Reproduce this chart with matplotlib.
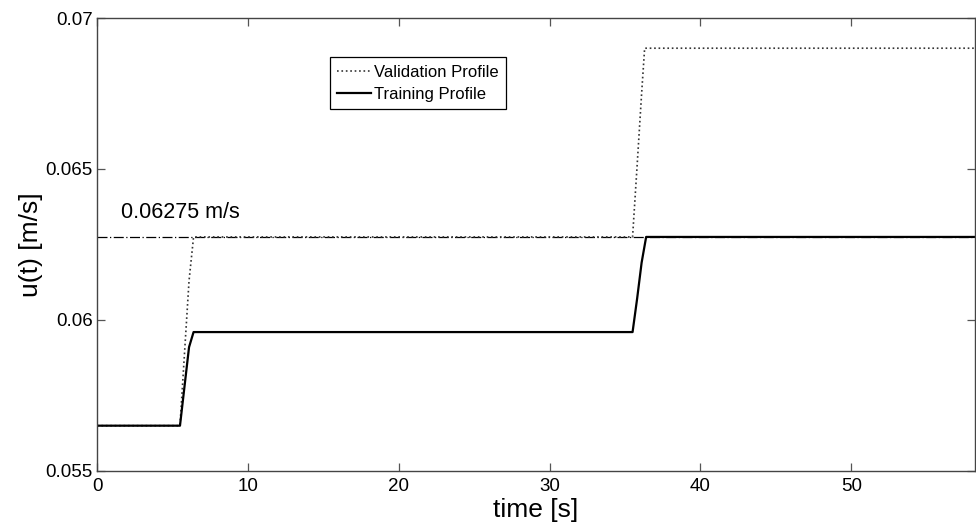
import numpy as np
import matplotlib
matplotlib.use('Agg')
import matplotlib.pyplot as plt

plt.rcParams['font.family'] = ['Liberation Sans', 'DejaVu Sans']

# 数据：分段阶跃
t_train = [0, 5.5, 5.8, 6.1, 6.4, 35.5, 35.8, 36.1, 36.4, 58.2]
u_train = [0.0565, 0.0565, 0.0578, 0.0591, 0.0596, 0.0596, 0.0607, 0.0619, 0.06275, 0.06275]

t_valid = [0, 5.5, 5.8, 6.1, 6.4, 35.5, 35.8, 36.1, 36.3, 58.2]
u_valid = [0.0565, 0.0565, 0.0589, 0.0613, 0.06275, 0.06275, 0.0651, 0.0675, 0.069, 0.069]

ref_level = 0.06275
x_ticks = [0, 10, 20, 30, 40, 50]
y_ticks = [0.055, 0.06, 0.065, 0.07]
y_tick_labels = ['0.055', '0.06', '0.065', '0.07']

fig = plt.figure(figsize=(9.76, 5.25), dpi=100)
ax = fig.add_axes([0.0994, 0.1029, 0.8996, 0.8628])

ax.axhline(ref_level, color='black', lw=0.9, ls='-.', dashes=(8, 2, 1, 2))
ax.plot(t_valid, u_valid, color='#333333', lw=1.2, ls=':', label='Validation Profile')
ax.plot(t_train, u_train, color='black', lw=1.6, label='Training Profile')

ax.text(1.6, 0.06355, '0.06275 m/s', fontsize=15.5, va='center', ha='left')

ax.set_xlim(0, 58.2)
ax.set_ylim(0.055, 0.07)
ax.set_xticks(x_ticks)
ax.set_yticks(y_ticks)
ax.set_yticklabels(y_tick_labels)
ax.tick_params(direction='in', length=6, width=0.9, labelsize=13.5, top=True, right=True,
               color='#555555', pad=3)
ax.tick_params(axis='x', pad=5)
for s in ax.spines.values():
    s.set_color('#444444')
    s.set_linewidth(1.0)

ax.set_xlabel('time [s]', fontsize=19, labelpad=2)
ax.set_ylabel('u(t) [m/s]', fontsize=19, labelpad=2)

leg = ax.legend(loc='upper left', bbox_to_anchor=(0.265, 0.913), fontsize=12,
                fancybox=False, framealpha=1, edgecolor='black', handlelength=2.0,
                handletextpad=0.2, borderpad=0.45, labelspacing=0.4, borderaxespad=0)
leg.get_frame().set_linewidth(0.9)

fig.savefig('out.png', dpi=100)
